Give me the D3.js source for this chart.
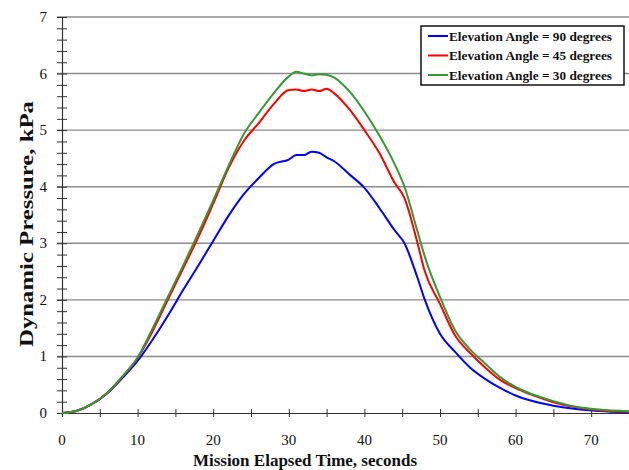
<!DOCTYPE html>
<html>
<head>
<meta charset="utf-8">
<script src="https://cdn.jsdelivr.net/npm/d3@7"></script>
<style>
  html, body { margin: 0; padding: 0; background: #fff; }
  svg { display: block; }
</style>
</head>
<body>
<svg id="chart" width="629" height="470"></svg>
<script>
// Mission elapsed time (s) for each sample
const times = [0, 2, 4, 6, 8, 10, 12, 14, 16, 18, 20, 22, 24, 26, 28, 30, 31, 32, 33, 34, 35, 36, 38, 40, 42, 44, 45.3, 47, 48, 50, 52, 54, 56, 58, 60, 62, 65, 68, 71, 75];

// Dynamic pressure (kPa) for each elevation angle
const q90 = [0, 0.04, 0.16, 0.35, 0.62, 0.92, 1.3, 1.72, 2.17, 2.6, 3.04, 3.48, 3.86, 4.15, 4.4, 4.48, 4.56, 4.56, 4.62, 4.6, 4.52, 4.45, 4.22, 3.98, 3.62, 3.23, 3.0, 2.4, 2.0, 1.4, 1.08, 0.8, 0.6, 0.44, 0.31, 0.22, 0.13, 0.07, 0.035, 0.01];
const q45 = [0, 0.04, 0.16, 0.36, 0.64, 0.97, 1.45, 2.0, 2.55, 3.1, 3.7, 4.32, 4.8, 5.12, 5.46, 5.71, 5.72, 5.69, 5.72, 5.69, 5.73, 5.65, 5.37, 5.0, 4.59, 4.07, 3.8, 3.02, 2.5, 1.93, 1.37, 1.06, 0.8, 0.58, 0.44, 0.33, 0.19, 0.1, 0.05, 0.02];
const q30 = [0, 0.04, 0.16, 0.36, 0.65, 0.98, 1.5, 2.05, 2.6, 3.17, 3.76, 4.36, 4.92, 5.3, 5.65, 5.95, 6.03, 6.0, 5.97, 5.99, 5.98, 5.93, 5.69, 5.33, 4.9, 4.4, 4.0, 3.22, 2.76, 2.05, 1.46, 1.12, 0.87, 0.63, 0.46, 0.34, 0.21, 0.11, 0.06, 0.03];

const seriesNames = ["Elevation Angle = 90 degrees", "Elevation Angle = 45 degrees", "Elevation Angle = 30 degrees"];
const seriesColors = ["#0000ff", "#ff0000", "#339933"];

const xTicks = [0, 10, 20, 30, 40, 50, 60, 70];
const yTicks = [0, 1, 2, 3, 4, 5, 6, 7];

const svg = d3.select("#chart");
const serif = "'Liberation Serif', 'Times New Roman', serif";

const x = d3.scaleLinear().domain([0, 75]).range([62, 629]);
const y = d3.scaleLinear().domain([0, 7]).range([413, 17]);

// horizontal gridlines at each whole kPa
svg.append("g")
  .selectAll("line")
  .data(yTicks.filter(d => d > 0))
  .join("line")
  .attr("x1", x(0) - 5).attr("x2", x(75))
  .attr("y1", d => y(d)).attr("y2", d => y(d))
  .attr("stroke", "#8c8c8c")
  .attr("stroke-width", 1.4);

// y axis: minor ticks every 0.2 kPa crossing the axis line
const yAxis = svg.append("g").attr("transform", `translate(${x(0)},0)`);
yAxis.call(d3.axisLeft(y).tickValues(d3.range(0, 7.01, 0.2)).tickSize(5).tickFormat(""));
yAxis.selectAll(".tick line").attr("x2", -5).attr("x1", 5).attr("stroke", "#333").attr("stroke-width", 1);
yAxis.select(".domain").attr("stroke", "#333").attr("stroke-width", 1.2);

svg.append("g")
  .selectAll("text")
  .data(yTicks)
  .join("text")
  .attr("x", 47)
  .attr("y", d => y(d) + 5)
  .attr("text-anchor", "end")
  .attr("font-family", serif)
  .attr("font-size", 15)
  .attr("fill", "#111")
  .text(d => d);

// x axis: ticks every 5 s crossing the axis line, labels every 10 s
const xAxis = svg.append("g").attr("transform", `translate(0,${y(0)})`);
xAxis.call(d3.axisBottom(x).tickValues(d3.range(0, 75.01, 5)).tickSize(4).tickFormat(""));
xAxis.selectAll(".tick line").attr("y1", -4).attr("y2", 4).attr("stroke", "#333").attr("stroke-width", 1);
xAxis.select(".domain").attr("stroke", "#333").attr("stroke-width", 1.2);

svg.append("g")
  .selectAll("text")
  .data(xTicks)
  .join("text")
  .attr("x", d => x(d))
  .attr("y", 445)
  .attr("text-anchor", "middle")
  .attr("font-family", serif)
  .attr("font-size", 15)
  .attr("fill", "#111")
  .text(d => d);

// axis titles
svg.append("text")
  .attr("x", 305).attr("y", 466)
  .attr("text-anchor", "middle")
  .attr("font-family", serif)
  .attr("font-weight", "bold")
  .attr("font-size", 17)
  .attr("fill", "#111")
  .text("Mission Elapsed Time, seconds");

svg.append("text")
  .attr("transform", "translate(33,224) rotate(-90)")
  .attr("text-anchor", "middle")
  .attr("font-family", serif)
  .attr("font-weight", "bold")
  .attr("font-size", 19)
  .attr("textLength", 246)
  .attr("lengthAdjust", "spacingAndGlyphs")
  .attr("fill", "#111")
  .text("Dynamic Pressure, kPa");

// pressure curves
const seriesValues = [q90, q45, q30];
const line = d3.line()
  .x(d => x(d[0]))
  .y(d => y(d[1]))
  .curve(d3.curveMonotoneX);

svg.append("clipPath").attr("id", "plot-clip")
  .append("rect").attr("x", x(0)).attr("y", 0).attr("width", x(75) - x(0)).attr("height", y(0) + 2);

svg.append("g")
  .attr("clip-path", "url(#plot-clip)")
  .selectAll("path")
  .data(seriesValues)
  .join("path")
  .attr("d", vals => line(times.map((t, i) => [t, vals[i]])))
  .attr("fill", "none")
  .attr("stroke", (d, i) => seriesColors[i])
  .attr("stroke-width", 2)
  .attr("stroke-linejoin", "round");

// legend
const legend = svg.append("g");
legend.append("rect")
  .attr("x", 421).attr("y", 26)
  .attr("width", 203).attr("height", 59)
  .attr("fill", "#fff")
  .attr("stroke", "#111")
  .attr("stroke-width", 1.5);

const rows = legend.selectAll("g.row")
  .data(seriesNames)
  .join("g")
  .attr("class", "row")
  .attr("transform", (d, i) => `translate(0,${36 + i * 19.5})`);

rows.append("line")
  .attr("x1", 428).attr("x2", 448)
  .attr("y1", 0).attr("y2", 0)
  .attr("stroke", (d, i) => seriesColors[i])
  .attr("stroke-width", 2);

rows.append("text")
  .attr("x", 449).attr("y", 4.5)
  .attr("font-family", serif)
  .attr("font-weight", "bold")
  .attr("font-size", 13)
  .attr("textLength", 163)
  .attr("lengthAdjust", "spacingAndGlyphs")
  .attr("fill", "#111")
  .text(d => d);
</script>
</body>
</html>
